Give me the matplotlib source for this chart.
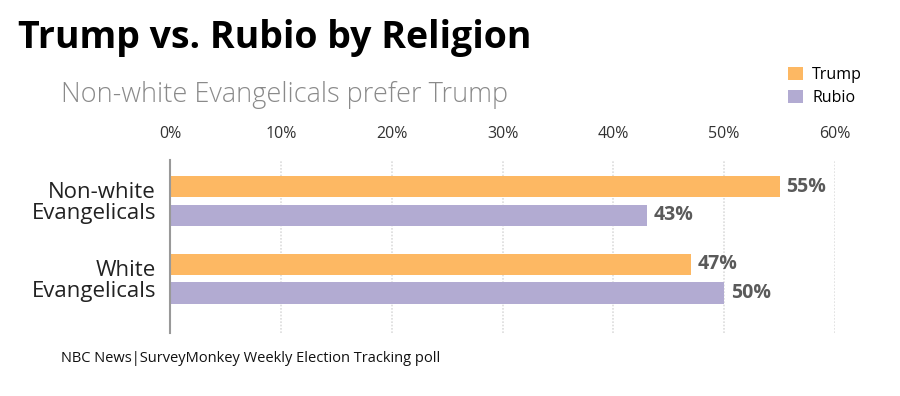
import matplotlib.pyplot as plt
import numpy as np

plt.rcParams['font.family'] = ['Open Sans', 'DejaVu Sans']

categories = ['Non-white\nEvangelicals', 'White\nEvangelicals']
trump = [55, 47]
rubio = [43, 50]
ticks = [0, 10, 20, 30, 40, 50, 60]

c_trump = '#fdb863'
c_rubio = '#b2abd2'

fig = plt.figure(figsize=(9, 3.96), dpi=100)
ax = fig.add_axes([0.1889, 0.159, 0.7389, 0.437])

y = np.arange(len(categories))
h = 0.277
off = 0.184
ax.barh(y - off, trump, height=h, color=c_trump, label='Trump')
ax.barh(y + off, rubio, height=h, color=c_rubio, label='Rubio')

for yi, v in zip(y - off, trump):
    ax.text(v + 0.6, yi, f'{v}%', va='center', ha='left', fontsize=14,
            fontweight='bold', color='#5a5a5a')
for yi, v in zip(y + off, rubio):
    ax.text(v + 0.6, yi, f'{v}%', va='center', ha='left', fontsize=14,
            fontweight='bold', color='#5a5a5a')

ax.set_xlim(0, 60)
ax.set_ylim(1.703, -0.529)
ax.set_xticks(ticks)
ax.set_xticklabels([f'{t}%' for t in ticks], fontsize=11.5, color='#333333')
ax.xaxis.tick_top()
ax.tick_params(axis='x', length=0, pad=13)
ax.set_yticks(y)
ax.set_yticklabels(categories, fontsize=16, color='#222222', linespacing=1.0)
ax.tick_params(axis='y', length=0, pad=10)

for t in ticks[1:]:
    ax.axvline(t, color='#dddddd', lw=1.2, ls=(0, (1, 1)), zorder=0)
for s in ['top', 'right', 'bottom']:
    ax.spines[s].set_visible(False)
ax.spines['left'].set_color('#999999')
ax.spines['left'].set_linewidth(1.5)

fig.text(0.02, 0.905, 'Trump vs. Rubio by Religion', fontsize=27,
         fontweight='bold', color='#000000', va='center')
fig.text(0.068, 0.76, 'Non-white Evangelicals prefer Trump', fontsize=19.5,
         fontweight='light', color='#8a8a8a', va='center')
fig.text(0.068, 0.095, 'NBC News|SurveyMonkey Weekly Election Tracking poll',
         fontsize=10.5, color='#111111', va='center')

ax.legend(loc='upper left', bbox_to_anchor=(0.92, 1.575), frameon=False,
          fontsize=11.5, handlelength=0.9, handleheight=0.9, handletextpad=0.6,
          labelspacing=0.45, borderaxespad=0)

fig.savefig('out.png', dpi=100)
